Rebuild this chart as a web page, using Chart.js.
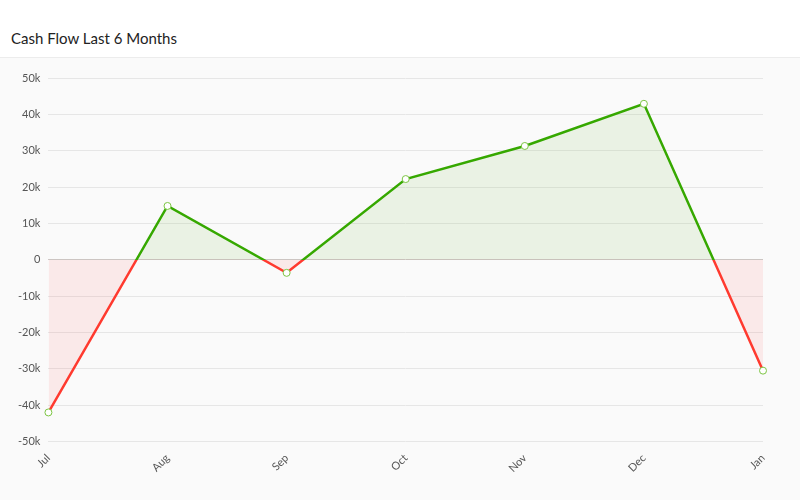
<!DOCTYPE html>
<html><head><meta charset="utf-8">
<script src="https://cdn.jsdelivr.net/npm/chart.js@4/dist/chart.umd.min.js"></script>
<style>
html,body{margin:0;padding:0;width:800px;height:500px;overflow:hidden;background:#fafafa;font-family:Lato,"Open Sans",sans-serif;}
#hdr{height:58px;background:#fff;border-bottom:1px solid #ececec;box-sizing:border-box;}
#hdr span{position:absolute;left:11px;top:29px;font-size:15px;color:#222;}
#wrap{position:absolute;left:0;top:59px;width:800px;height:441px;}
</style></head>
<body>
<div id="hdr"><span>Cash Flow Last 6 Months</span></div>
<div id="wrap"><canvas id="c"></canvas></div>
<script>
const months = ["Jul","Aug","Sep","Oct","Nov","Dec","Jan"];
const cashFlow = [-42000, 14800, -3600, 22200, 31300, 42900, -30500];
const yTicks = [-50000, 50000, 10000]; // min, max, step

const GREEN = '#36a800', RED = '#ff3a2f';
function lineColor(context){
  const chart = context.chart; const {ctx, chartArea, scales} = chart;
  if(!chartArea) return GREEN;
  const y0 = scales.y.getPixelForValue(0);
  let f = (y0 - chartArea.top)/(chartArea.bottom - chartArea.top);
  f = Math.min(1, Math.max(0, f));
  const g = ctx.createLinearGradient(0, chartArea.top, 0, chartArea.bottom);
  g.addColorStop(0, GREEN); g.addColorStop(f, GREEN);
  g.addColorStop(f, RED); g.addColorStop(1, RED);
  return g;
}
new Chart(document.getElementById('c'), {
  type: 'line',
  data: { labels: months, datasets: [{
    data: cashFlow,
    borderColor: lineColor,
    borderWidth: 2.5,
    tension: 0,
    fill: { target: 'origin', above: 'rgba(120,190,70,0.12)', below: 'rgba(255,90,90,0.1)' },
    pointRadius: 3.5,
    pointBackgroundColor: '#fff',
    pointBorderColor: '#7cc443',
    pointBorderWidth: 1,
  }]},
  options: {
    responsive: true, maintainAspectRatio: false, animation: false,
    layout: { padding: { top: 19, right: 37, left: 10, bottom: 23 } },
    plugins: { legend: { display: false }, tooltip: { enabled: false } },
    scales: {
      x: {
        grid: { display: false },
        border: { display: false },
        ticks: { color: '#555', font: { family: 'Lato', size: 11 }, minRotation: 45, maxRotation: 45, padding: 2 }
      },
      y: {
        min: yTicks[0], max: yTicks[1],
        border: { display: false },
        grid: { color: c => c.tick.value === 0 ? '#cfc6c6' : '#e6e6e6', lineWidth: 1, drawTicks: false },
        ticks: { stepSize: yTicks[2], color: '#555', padding: 8, font: { family: 'Lato', size: 11 },
          callback: v => v === 0 ? '0' : (v/1000) + 'k' }
      }
    }
  }
});
</script>
</body></html>
